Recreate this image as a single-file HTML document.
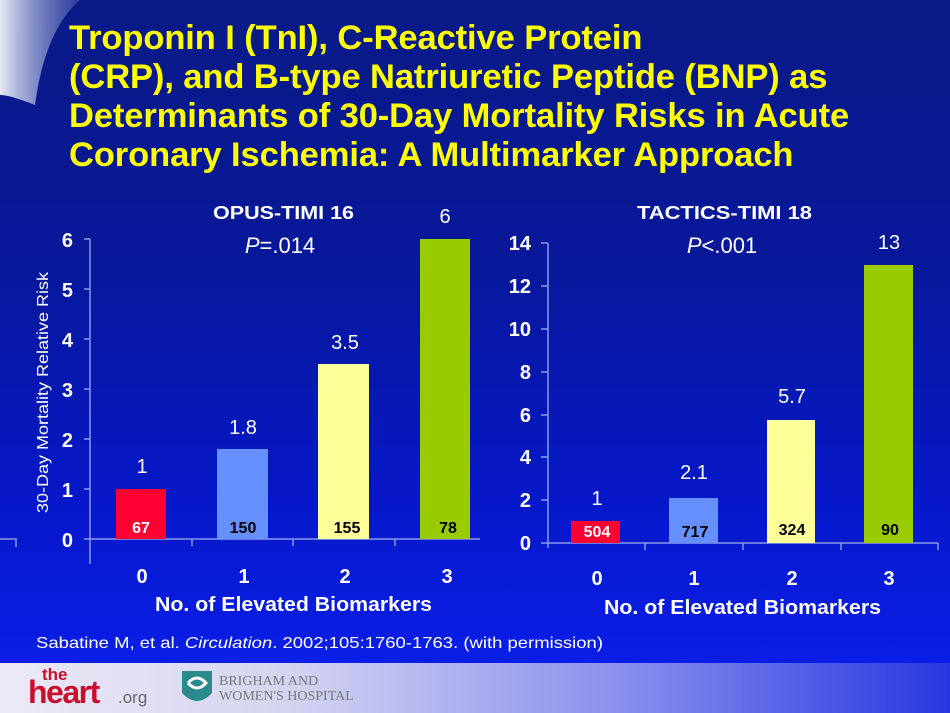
<!DOCTYPE html>
<html><head><meta charset="utf-8"><style>
body{margin:0;width:950px;height:713px;overflow:hidden;font-family:"Liberation Sans",Arial,sans-serif;}
#bg{position:absolute;left:0;top:0;width:950px;height:663px;background:linear-gradient(#0a1a86 0%,#08189a 40%,#0618c8 75%,#0a1ee8 100%);}
#foot{position:absolute;left:0;top:663px;width:950px;height:50px;background:linear-gradient(90deg,#eceaf6 0%,#d4d4f0 30%,#8a90ee 65%,#2838e0 100%);}
#title{position:absolute;left:69px;top:19px;color:#ffff00;font-weight:bold;font-size:34.5px;line-height:39px;letter-spacing:-0.1px;}
</style></head><body>
<div id="bg"></div>
<svg style="position:absolute;left:0;top:0" width="120" height="110"><defs><linearGradient id="sw" x1="0" y1="0" x2="1" y2="0"><stop offset="0" stop-color="#fff" stop-opacity="0.9"/><stop offset="1" stop-color="#8090d0" stop-opacity="0.3"/></linearGradient></defs><path d="M0,0 L80,0 Q45,30 35,105 Q10,95 0,95 Z" fill="url(#sw)"/></svg>
<div id="title">Troponin I (TnI), C-Reactive Protein<br>(CRP), and B-type Natriuretic Peptide (BNP) as<br>Determinants of 30-Day Mortality Risks in Acute<br>Coronary Ischemia: A Multimarker Approach</div>
<svg style="position:absolute;left:0;top:0" width="950" height="663" font-family="Liberation Sans,Arial,sans-serif">
<g fill="#fff" font-weight="bold" font-size="20" text-anchor="end">
<text x="73" y="547">0</text><text x="73" y="497">1</text><text x="73" y="447">2</text><text x="73" y="397">3</text><text x="73" y="347">4</text><text x="73" y="297">5</text><text x="73" y="247">6</text>
</g>
<g stroke="#8a9ae8" stroke-width="1.5" fill="none">
<path d="M90,239 V564 M84,539 H480 M84,489 H90 M84,439 H90 M84,389 H90 M84,339 H90 M84,289 H90 M84,239 H90 M192,539 V546 M293,539 V546 M395,539 V546"/>
<path d="M548,243 V548 M541,543 H938 M541,500 H548 M541,457 H548 M541,415 H548 M541,372 H548 M541,329 H548 M541,286 H548 M541,243 H548 M645,543 V550 M743,543 V550 M841,543 V550 M938,543 V550"/>
<path d="M0,539 H16 V547"/>
</g>
<text transform="translate(48,513) rotate(-90)" fill="#fff" font-size="16" textLength="241" lengthAdjust="spacingAndGlyphs">30-Day Mortality Relative Risk</text>
<rect x="116" y="489" width="50" height="50" fill="#ff0033"/>
<rect x="217" y="449" width="51" height="90" fill="#6690ff"/>
<rect x="318" y="364" width="51" height="175" fill="#ffff99"/>
<rect x="420" y="239" width="50" height="300" fill="#99cc00"/>
<g font-size="16" font-weight="bold" text-anchor="middle">
<text x="141" y="533" fill="#fff">67</text><text x="243" y="533">150</text><text x="347" y="533">155</text><text x="448" y="533">78</text>
</g>
<g fill="#fff" font-size="20" text-anchor="middle">
<text x="142" y="473">1</text><text x="243" y="434">1.8</text><text x="345" y="349">3.5</text><text x="445" y="223">6</text>
<text x="213" y="219" font-size="18" font-weight="bold" text-anchor="start" textLength="141" lengthAdjust="spacingAndGlyphs">OPUS-TIMI 16</text>
<text x="280" y="253" font-size="22"><tspan font-style="italic">P</tspan>=.014</text>
<g font-weight="bold"><text x="142" y="583">0</text><text x="244" y="583">1</text><text x="345" y="583">2</text><text x="447" y="583">3</text>
<text x="155" y="611" font-size="20" text-anchor="start" textLength="277" lengthAdjust="spacingAndGlyphs">No. of Elevated Biomarkers</text></g>
</g>
<g fill="#fff" font-weight="bold" font-size="20" text-anchor="end">
<text x="531" y="550">0</text><text x="531" y="507">2</text><text x="531" y="464">4</text><text x="531" y="422">6</text><text x="531" y="379">8</text><text x="531" y="336">10</text><text x="531" y="293">12</text><text x="531" y="250">14</text>
</g>
<rect x="571" y="521" width="49" height="22" fill="#ff0033"/>
<rect x="669" y="498" width="49" height="45" fill="#6690ff"/>
<rect x="767" y="420" width="48" height="123" fill="#ffff99"/>
<rect x="864" y="265" width="49" height="278" fill="#99cc00"/>
<g font-size="16" font-weight="bold" text-anchor="middle">
<text x="597" y="537" fill="#fff">504</text><text x="695" y="537">717</text><text x="792" y="535">324</text><text x="890" y="535">90</text>
</g>
<g fill="#fff" font-size="20" text-anchor="middle">
<text x="597" y="505">1</text><text x="694" y="479">2.1</text><text x="792" y="403">5.7</text><text x="889" y="249">13</text>
<text x="637" y="219" font-size="18" font-weight="bold" text-anchor="start" textLength="175" lengthAdjust="spacingAndGlyphs">TACTICS-TIMI 18</text>
<text x="722" y="253" font-size="22"><tspan font-style="italic">P</tspan>&lt;.001</text>
<g font-weight="bold"><text x="597" y="585">0</text><text x="694" y="585">1</text><text x="792" y="585">2</text><text x="889" y="585">3</text>
<text x="604" y="614" font-size="20" text-anchor="start" textLength="277" lengthAdjust="spacingAndGlyphs">No. of Elevated Biomarkers</text></g>
</g>
<text x="36" y="648" fill="#fff" font-size="16" textLength="567" lengthAdjust="spacingAndGlyphs">Sabatine M, et al. <tspan font-style="italic">Circulation</tspan>. 2002;105:1760-1763. (with permission)</text>
</svg>
<div id="foot"></div>
<svg style="position:absolute;left:0;top:663px" width="400" height="50" font-family="Liberation Sans,Arial,sans-serif">
<text x="42" y="17" fill="#c8102e" font-size="17" font-weight="bold">the</text>
<text x="28" y="40" fill="#c8102e" font-size="32" font-weight="bold" letter-spacing="-1.5">heart</text>
<text x="118" y="40" fill="#666" font-size="17">.org</text>
<path d="M182,8 H212 V30 Q197,46 182,30 Z" fill="#2a8a8c"/>
<path d="M188,20 Q197,10 206,20 Q197,30 188,20" fill="none" stroke="#fff" stroke-width="3"/>
<text x="219" y="22" fill="#777" font-size="14" font-family="Liberation Serif,serif">BRIGHAM AND</text>
<text x="219" y="37" fill="#777" font-size="14" font-family="Liberation Serif,serif">WOMEN'S HOSPITAL</text>
</svg>
</body></html>
